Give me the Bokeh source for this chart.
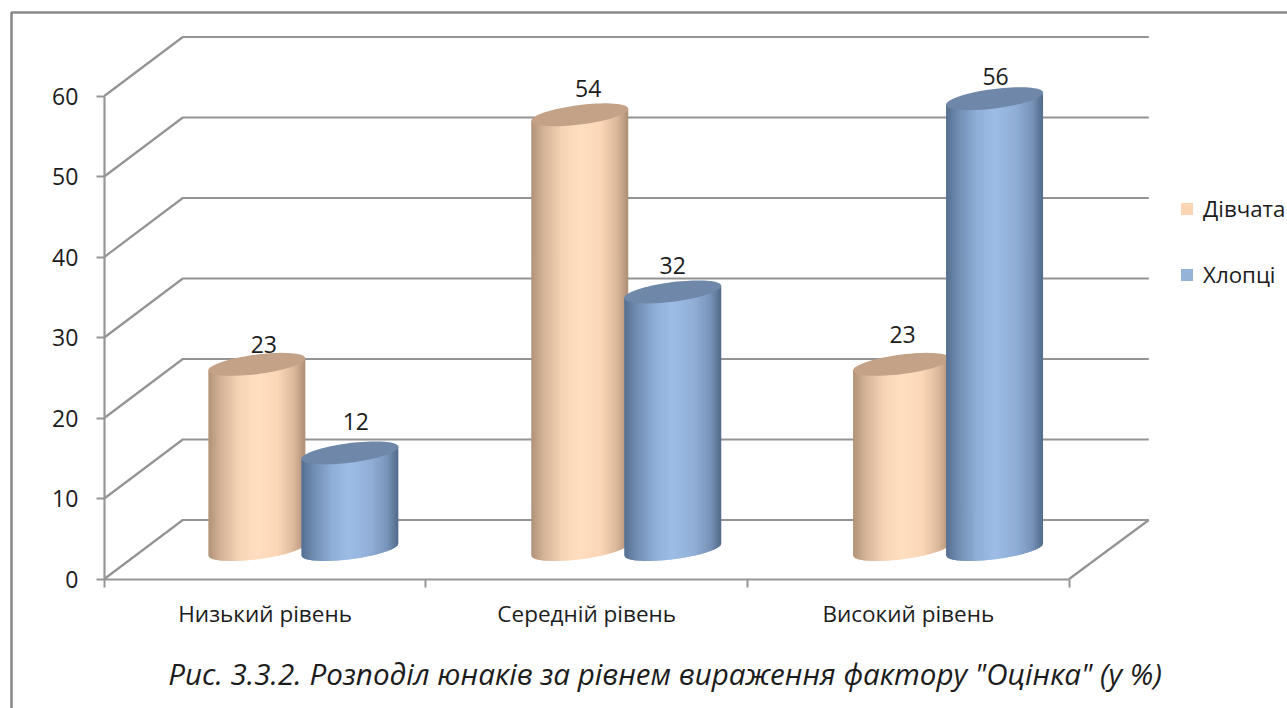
import math
from bokeh.plotting import figure
from bokeh.embed import file_html
from bokeh.resources import INLINE
from bokeh.core.properties import value
from bokeh.models import (ColumnDataSource, Range1d, FixedTicker, LinearAxis, Legend, LegendItem, Label)

# ---- data ----
categories = ["Низький рівень", "Середній рівень", "Високий рівень"]
girls = [23, 54, 23]
boys = [12, 32, 56]
series_names = ["Дівчата", "Хлопці"]
y_ticks = [0, 10, 20, 30, 40, 50, 60]
title_text = 'Рис. 3.3.2. Розподіл юнаків за рівнем вираження фактору "Оцінка" (у %)'

# ---- style / geometry ----
FONT = "Open Sans"
W, H = 1287, 708
X0_PX, X_PX = 103.8, 321.6      # page px of x=0, px per category
Y0_PX, Y_PX = 578.5, 8.05       # page px of y=0, px per unit
DEPTH_X, DEPTH_Y = 78.5 / X_PX, 59 / Y_PX
HALF_X, HALF_Y = DEPTH_X / 2, DEPTH_Y / 2
SHIFT = 46.5 / X_PX
A, S, B = 48.5 / X_PX, 6 / Y_PX, 9.8 / Y_PX
GROUP_NUDGE = [-1 / X_PX, 0.3 / X_PX, 0.5 / X_PX]
GRID = "#949494"
TEXT = "#1c1c1c"

STOPS = {
    "g": [(0, "#b0927a"), (.12, "#d2b195"), (.32, "#f6d4b5"), (.5, "#ffdfc0"), (.72, "#fad6b6"), (.88, "#dcb89b"), (1, "#ad8e75")],
    "b": [(0, "#546e90"), (.12, "#6f8bb0"), (.32, "#8fafd8"), (.5, "#9dbde6"), (.72, "#90aed6"), (.88, "#7a95ba"), (1, "#506a8a")],
}
TOP = {"g": "#c4a287", "b": "#6f87a9"}
SWATCH = {"g": "#fcd5b5", "b": "#95b3d7"}


def dx(px):
    return (px - X0_PX) / X_PX


def dy(py):
    return (Y0_PX - py) / Y_PX


def shade(stops, t):
    for (a, ca), (b, cb) in zip(stops, stops[1:]):
        if t <= b:
            f = (t - a) / (b - a)
            rgb = [round(int(ca[i:i + 2], 16) * (1 - f) + int(cb[i:i + 2], 16) * f) for i in (1, 3, 5)]
            return "#%02x%02x%02x" % tuple(rgb)
    return stops[-1][1]


p = figure(width=W, height=H, output_backend="svg", toolbar_location=None,
           x_range=Range1d(dx(0), dx(W)), y_range=Range1d(dy(H), dy(0)),
           min_border=0, min_border_left=0, min_border_right=0, min_border_top=0, min_border_bottom=0)
p.outline_line_color = None
p.grid.visible = False
p.background_fill_color = "white"

# chart border (open to the right and bottom, as the crop of the original)
p.line([dx(11), dx(11), dx(W + 5)], [dy(H + 5), dy(12), dy(12)], line_color="#8a8a8a", line_width=2.6)

# walls and floor
END = 3 + DEPTH_X + 1.2 / X_PX
xs, ys = [], []
for t in y_ticks:
    xs.append([0, DEPTH_X, END])
    ys.append([t, t + DEPTH_Y, t + DEPTH_Y])
xs.append([3, END])
ys.append([0, DEPTH_Y])
p.multi_line(xs, ys, line_color=GRID, line_width=2.2)

# axes
p.yaxis.fixed_location = 0
p.yaxis.ticker = FixedTicker(ticks=y_ticks)
p.yaxis.bounds = (0, 60)
p.yaxis.axis_line_color = "#969696"
p.yaxis.axis_line_width = 2.2
p.yaxis.major_tick_line_color = "#969696"
p.yaxis.major_tick_line_width = 2
p.yaxis.major_tick_in = 0
p.yaxis.major_tick_out = 8
p.yaxis.minor_tick_line_color = None
p.yaxis.major_label_standoff = 18
p.yaxis.major_label_text_font = FONT
p.yaxis.major_label_text_font_size = "23px"
p.yaxis.major_label_text_color = TEXT

p.xaxis.fixed_location = 0
p.xaxis.ticker = FixedTicker(ticks=[0, 1, 2, 3])
p.xaxis.bounds = (0, 3)
p.xaxis.axis_line_color = "#969696"
p.xaxis.axis_line_width = 2.2
p.xaxis.major_tick_line_color = "#969696"
p.xaxis.major_tick_line_width = 2
p.xaxis.major_tick_in = 0
p.xaxis.major_tick_out = 8
p.xaxis.minor_tick_line_color = None
p.xaxis.major_label_text_font_size = "0px"
p.xaxis.major_label_overrides = {0: "", 1: "", 2: "", 3: ""}

cat_axis = LinearAxis(fixed_location=0, ticker=FixedTicker(ticks=[0.5, 1.5, 2.5]),
                      major_label_overrides={0.5: categories[0], 1.5: categories[1], 2.5: categories[2]},
                      axis_line_color=None, major_tick_line_color=None, minor_tick_line_color=None,
                      major_label_standoff=13, major_label_text_font=FONT,
                      major_label_text_font_size="22.5px", major_label_text_color=TEXT)
p.add_layout(cat_axis, "below")


def cylinder(cx, val, key, n=48):
    sx, sy, colors = [], [], []
    for i in range(n):
        x1, x2 = -1 + 2 * i / n, min(1, -1 + 2 * (i + 1.6) / n)
        us = [x1 + (x2 - x1) * k / 3 for k in range(4)]
        low = [HALF_Y + S * u - B * math.sqrt(max(0, 1 - u * u)) for u in us]
        up = [HALF_Y + val + S * u for u in reversed(us)]
        sx.append([cx + A * u for u in us] + [cx + A * u for u in reversed(us)])
        sy.append(low + up)
        colors.append(shade(STOPS[key], (i + .5) / n))
    p.patches(sx, sy, fill_color=colors, line_color=None)
    th = [2 * math.pi * k / 72 for k in range(72)]
    ex = [cx + A * math.cos(t) for t in th]
    ey = [HALF_Y + val + S * math.cos(t) + B * math.sin(t) for t in th]
    p.patch(ex, ey, fill_color=TOP[key], line_color=None)


for i in range(3):
    centre = i + 0.5 + HALF_X + GROUP_NUDGE[i]
    cylinder(centre - SHIFT, girls[i], "g")
    cylinder(centre + SHIFT, boys[i], "b")

# data labels (pixel nudges as placed in the original)
lab_x, lab_y, lab_t = [], [], []
lab_dx = [7, 8.5, 1, 6, 0, 1]
lab_dy = [20, 26, 30, 31, 26, 22]
for k, vals in enumerate((girls, boys)):
    for i, v in enumerate(vals):
        lab_x.append(i + 0.5 + HALF_X + GROUP_NUDGE[i] + (-SHIFT if k == 0 else SHIFT))
        lab_y.append(v + HALF_Y)
        lab_t.append(str(v))
src = ColumnDataSource(dict(x=lab_x, y=lab_y, t=lab_t, dx=lab_dx, dy=[-d for d in lab_dy]))
p.text("x", "y", text="t", x_offset="dx", y_offset="dy", source=src, text_align="center", text_baseline="middle",
       text_font=value(FONT), text_font_size="23px", text_color=TEXT)

# legend (swatch renderers hold one point off the visible range)
r1 = p.quad(left=[50], right=[51], top=[500], bottom=[499], fill_color=SWATCH["g"], line_color=None)
r2 = p.quad(left=[50], right=[51], top=[500], bottom=[499], fill_color=SWATCH["b"], line_color=None)
legend = Legend(items=[LegendItem(label=series_names[0], renderers=[r1]), LegendItem(label=series_names[1], renderers=[r2])],
                location=(1179, H - 290), orientation="vertical", background_fill_alpha=0, border_line_color=None,
                glyph_width=15, glyph_height=15, label_standoff=9, spacing=35, padding=8, margin=0,
                label_text_font=FONT, label_text_font_size="22.3px", label_text_color=TEXT)
p.add_layout(legend, "center")

# caption
p.add_layout(Label(x=664.5, y=H - 673, x_units="screen", y_units="screen", text=title_text,
                   text_align="center", text_baseline="middle", text_font=FONT, text_font_style="italic",
                   text_font_size="29.6px", text_color=TEXT))

open("out.html", "w").write(file_html(p, INLINE))
